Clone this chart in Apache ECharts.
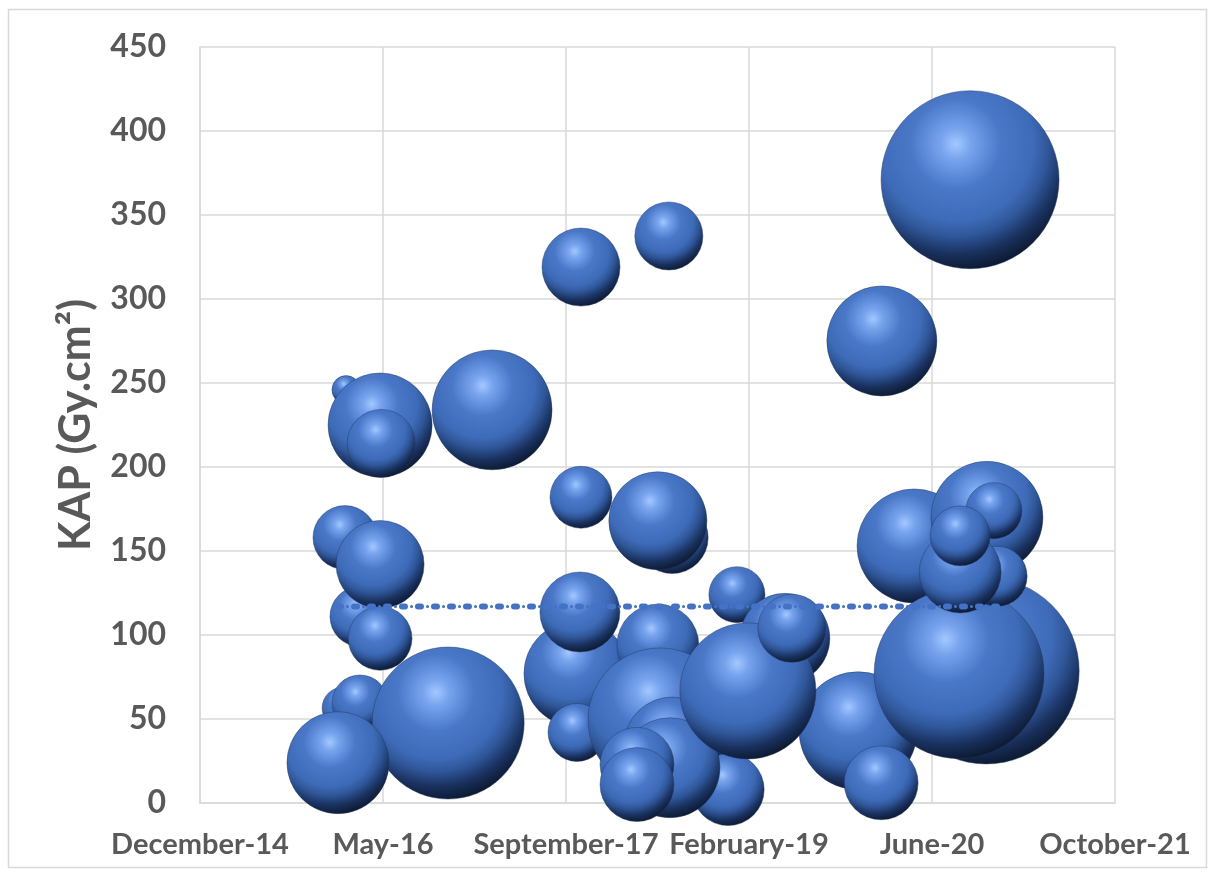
<!DOCTYPE html>
<html>
<head>
<meta charset="utf-8">
<script src="https://cdn.jsdelivr.net/npm/echarts@6/dist/echarts.min.js"></script>
<style>
  html, body { margin: 0; padding: 0; background: #ffffff; }
  #chart { width: 1215px; height: 876px; }
</style>
</head>
<body>
<div id="chart"></div>
<script>
// Procedure dates as Excel day numbers (serial 1 = 1900-01-01)
const examDay = [
  42399, 42492, 42495, 42396, 42437, 42492, 42492, 42391, 42437, 42678, 42377, 42798,
  43041, 43281, 43041, 43030, 43038, 43030, 43251, 43257, 43443, 43290, 43284, 43194, 43194, 43290, 43251,
  43467, 43598, 43798, 43497, 43617, 43861,
  43863, 44104, 43951, 44148, 44074, 44150, 44169, 44178, 44077, 44077
];

// Kerma-area product per procedure (Gy.cm²)
const kap = [
  246, 225, 214, 158, 111, 142, 98, 56.5, 59.5, 47.6, 24, 234,
  319, 337.5, 182, 77, 113.7, 42, 94, 49.4, 8, 34.5, 21, 23, 11, 158, 168,
  124, 98, 43, 66.7, 104, 12,
  275, 371, 153, 78.6, 77, 170, 174, 135, 137.5, 159
];

// Bubble size value per procedure
const bubbleSize = [
  2.3, 31.3, 13.4, 11.8, 10.4, 22.4, 11.8, 5.1, 9.1, 66.8, 30.1, 41.6,
  17.6, 13.4, 11.1, 32.5, 18.5, 9.7, 19.4, 60, 15, 26.6, 28.9, 15.8, 15.8, 15, 27.8,
  9.1, 23.4, 40.2, 53.5, 13.4, 15.8,
  35, 91.6, 37.6, 100, 83.5, 36.3, 9.1, 10.4, 19.4, 10.4
];

// Trend line level at the first and last procedure
const trendKap = [117, 117];

// Axis ranges and steps
const xRange = [42000, 44500];
const xStep = 500;
const yRange = [0, 450];
const yStep = 50;

const monthNames = ['January', 'February', 'March', 'April', 'May', 'June',
  'July', 'August', 'September', 'October', 'November', 'December'];

function dayLabel(serial) {
  const d = new Date(Date.UTC(1899, 11, 30) + serial * 86400000);
  return monthNames[d.getUTCMonth()] + '-' + String(d.getUTCFullYear()).slice(2);
}

const BLUE = '#4472c4';
const GRID = '#d9d9d9';
const TEXT = '#595959';
const MAX_DIAMETER = 186;
const sizeMax = Math.max.apply(null, bubbleSize);

const bubbles = examDay.map((d, i) => [d, kap[i], bubbleSize[i]]);
const firstDay = Math.min.apply(null, examDay);
const lastDay = Math.max.apply(null, examDay);
const trend = [[firstDay, trendKap[0]], [lastDay, trendKap[1]]];

// Sphere shading: light spot upper left, dark rim lower right
const sphere = {
  type: 'radial', x: 0.42, y: 0.3, r: 0.72,
  colorStops: [
    { offset: 0, color: '#a4c8ff' },
    { offset: 0.12, color: '#78a4ee' },
    { offset: 0.35, color: '#4a78c8' },
    { offset: 0.6, color: '#3e6bb8' },
    { offset: 0.72, color: '#2f5698' },
    { offset: 0.85, color: '#1a3260' },
    { offset: 1, color: '#0b172c' }
  ]
};

const chart = echarts.init(document.getElementById('chart'), null, { renderer: 'canvas' });

chart.setOption({
  animation: false,
  backgroundColor: '#ffffff',
  graphic: [{
    type: 'rect',
    shape: { x: 8.5, y: 9.5, width: 1198, height: 858 },
    style: { fill: 'none', stroke: GRID, lineWidth: 1.5 },
    silent: true,
    z: -1
  }],
  grid: { left: 200, right: 100, top: 47, bottom: 73, containLabel: false },
  xAxis: {
    type: 'value',
    min: xRange[0], max: xRange[1], interval: xStep,
    axisLine: { show: true, lineStyle: { color: GRID, width: 1.5 } },
    axisTick: { show: false },
    splitLine: { show: true, lineStyle: { color: GRID, width: 1.5 } },
    axisLabel: {
      formatter: dayLabel,
      color: TEXT, fontFamily: 'Lato', fontWeight: 'bold', fontSize: 29,
      margin: 27, showMinLabel: true, showMaxLabel: true
    }
  },
  yAxis: {
    type: 'value',
    min: yRange[0], max: yRange[1], interval: yStep,
    name: 'KAP (Gy.cm²)',
    nameLocation: 'middle',
    nameGap: 102,
    nameTextStyle: { color: TEXT, fontFamily: 'Lato', fontWeight: 'bold', fontSize: 43 },
    axisLine: { show: true, lineStyle: { color: GRID, width: 1.5 } },
    axisTick: { show: false },
    splitLine: { show: true, lineStyle: { color: GRID, width: 1.5 } },
    axisLabel: {
      color: TEXT, fontFamily: 'Lato', fontWeight: 'bold', fontSize: 32, margin: 34
    }
  },
  series: [
    {
      name: 'KAP',
      type: 'scatter',
      data: bubbles,
      clip: true,
      z: 2,
      symbol: 'circle',
      symbolSize: v => MAX_DIAMETER * Math.sqrt(v[2] / sizeMax),
      itemStyle: {
        color: sphere,
        borderColor: 'rgba(35, 55, 95, 0.55)',
        borderWidth: 0.8,
        opacity: 1
      },
      emphasis: { disabled: true }
    },
    {
      name: 'Trend',
      type: 'line',
      data: trend,
      z: 3,
      showSymbol: false,
      silent: true,
      lineStyle: { color: BLUE, width: 6, type: [3, 13], cap: 'round' }
    },
    {
      name: 'Trend dots',
      type: 'line',
      data: trend,
      z: 3,
      showSymbol: false,
      silent: true,
      lineStyle: { color: BLUE, width: 3, type: [0.1, 15.9], dashOffset: 6.5, cap: 'round' }
    }
  ]
});
</script>
</body>
</html>
